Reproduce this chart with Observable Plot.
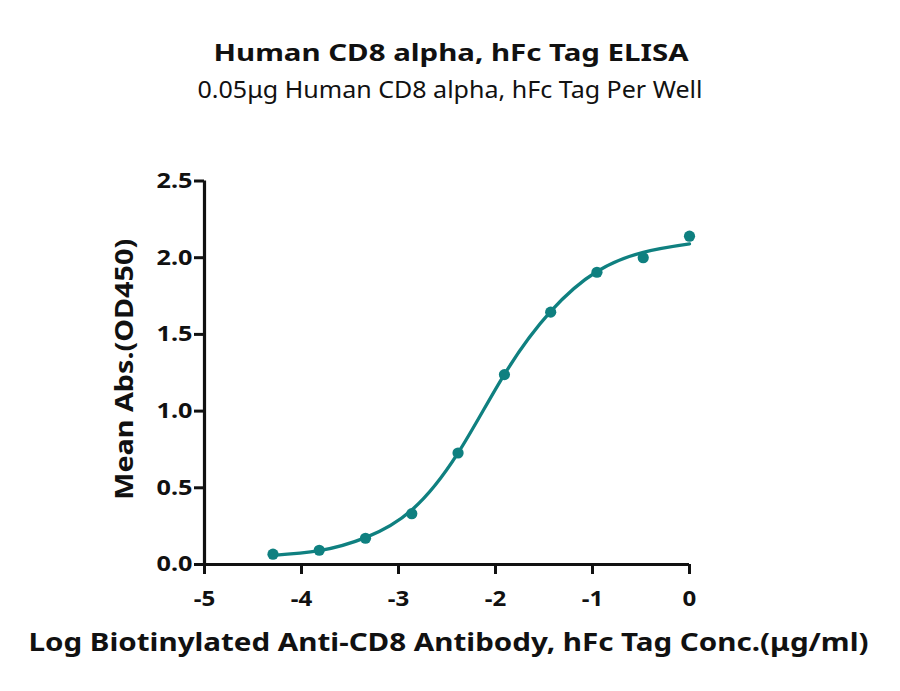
<!DOCTYPE html>
<html>
<head>
<meta charset="utf-8">
<script src="https://cdn.jsdelivr.net/npm/d3@7"></script>
<script src="https://cdn.jsdelivr.net/npm/@observablehq/plot@0.6"></script>
<style>
  html, body { margin: 0; padding: 0; background: #fff; }
  #chart { width: 900px; height: 691px; overflow: hidden; }
</style>
</head>
<body>
<div id="chart"></div>
<script>
// Measured points (log10 concentration, µg/ml) and mean OD450
const logConc = [-4.294, -3.817, -3.340, -2.863, -2.386, -1.908, -1.431, -0.954, -0.477, 0];
const meanOD  = [0.067, 0.093, 0.171, 0.331, 0.727, 1.238, 1.645, 1.905, 2.000, 2.140];

// Fitted curve
const fitX = [-4.294, -3.817, -3.340, -2.863, -2.386, -1.908, -1.431, -0.954, -0.477, 0];
const fitY = [0.060, 0.090, 0.175, 0.355, 0.727, 1.240, 1.650, 1.910, 2.035, 2.090];

const xTicks = [-5, -4, -3, -2, -1, 0];
const yTicks = [0, 0.5, 1.0, 1.5, 2.0, 2.5];
const yTickLabels = ["0.0", "0.5", "1.0", "1.5", "2.0", "2.5"];

const titleText = "Human CD8 alpha, hFc Tag ELISA";
const subtitleText = "0.05μg Human CD8 alpha, hFc Tag Per Well";
const xLabel = "Log Biotinylated Anti-CD8 Antibody, hFc Tag Conc.(μg/ml)";
const yLabel = "Mean Abs.(OD450)";

const points = logConc.map((x, i) => ({x, y: meanOD[i]}));
const fit = fitX.map((x, i) => ({x, y: fitY[i]}));

const teal = "#0f8080";
const ink = "#111";
const font = "'Noto Sans', sans-serif";

const chart = Plot.plot({
  width: 900,
  height: 691,
  marginLeft: 204,
  marginRight: 211,
  marginTop: 180.5,
  marginBottom: 127,
  style: { fontFamily: font, background: "white", color: ink, overflow: "visible" },
  x: { domain: [-5, 0], axis: null },
  y: { domain: [0, 2.5], axis: null },
  marks: [
    Plot.axisX({ ticks: xTicks, tickFormat: d => String(d), tickSize: 10, tickPadding: 16, fontSize: 21.5, fontWeight: 700, label: null, stroke: ink, strokeWidth: 3, anchor: "bottom" }),
    Plot.axisY({ ticks: yTicks, tickFormat: (d, i) => yTickLabels[i], tickSize: 10, tickPadding: 2, fontSize: 21.5, fontWeight: 700, label: null, stroke: ink, strokeWidth: 3, anchor: "left" }),
    Plot.ruleY([0], { stroke: ink, strokeWidth: 3.2 }),
    Plot.ruleX([-5], { stroke: ink, strokeWidth: 3.2, insetBottom: -1.5 }),
    Plot.line(fit, { x: "x", y: "y", curve: "natural", stroke: teal, strokeWidth: 3.3 }),
    Plot.dot(points, { x: "x", y: "y", r: 5.6, fill: teal, stroke: "none" }),
    Plot.text([titleText], { frameAnchor: "top", lineAnchor: "bottom", dx: 4, dy: -120.5, text: d => d, fontSize: 22.5, fontWeight: 700, fill: ink }),
    Plot.text([subtitleText], { frameAnchor: "top", lineAnchor: "bottom", dx: 3, dy: -83.5, text: d => d, fontSize: 23, fontWeight: 400, fill: ink }),
    Plot.text([xLabel], { frameAnchor: "bottom", lineAnchor: "bottom", dx: 1.5, dy: 86, text: d => d, fontSize: 25.5, fontWeight: 700, fill: ink }),
    Plot.text([yLabel], { frameAnchor: "left", lineAnchor: "bottom", textAnchor: "start", rotate: -90, dx: -72, dy: 127, text: d => d, fontSize: 25.5, fontWeight: 700, fill: ink })
  ]
});
document.getElementById("chart").appendChild(chart);

// Match the reference's wide lettering by stretching text to measured widths
const targets = new Map([[titleText, 475], [subtitleText, 505], [xLabel, 840], [yLabel, 261]]);
chart.querySelectorAll("text").forEach(t => {
  const s = t.textContent;
  let w = null;
  if (targets.has(s)) w = targets.get(s);
  else if (yTickLabels.includes(s)) w = 36;
  else if (xTicks.map(String).includes(s)) w = t.getComputedTextLength() * 1.12;
  if (w) { t.setAttribute("textLength", w); t.setAttribute("lengthAdjust", "spacingAndGlyphs"); }
});
</script>
</body>
</html>
